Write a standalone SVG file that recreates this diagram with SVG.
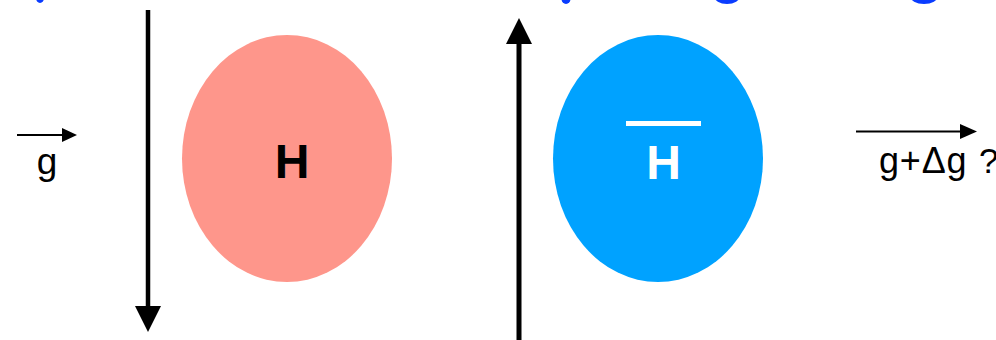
<svg xmlns="http://www.w3.org/2000/svg" width="996" height="340" viewBox="0 0 996 340">
<style>
.lbl{font-family:"Liberation Sans",Arial,sans-serif;font-size:36px;fill:#000}
.big{font-family:"Liberation Sans",Arial,sans-serif;font-size:48px;font-weight:bold;text-anchor:middle}
.frag{fill:#0a3cff}
</style>
<rect width="996" height="340" fill="#fff"/>
<g id="title-fragments">
<ellipse class="frag" cx="40" cy="-2" rx="4" ry="5"/>
<ellipse class="frag" cx="566" cy="-1" rx="4.5" ry="5"/>
<ellipse class="frag" cx="727" cy="-4" rx="13" ry="8"/>
<ellipse class="frag" cx="924" cy="-4" rx="14" ry="8"/>
</g>
<g id="node-H">
<ellipse cx="287" cy="158.5" rx="105" ry="123.5" fill="#fe968b"/>
<text class="big" x="292" y="178" fill="#000">H</text>
</g>
<g id="node-Hbar">
<ellipse cx="658" cy="158.5" rx="105" ry="123.5" fill="#00a2ff"/>
<rect x="626" y="121" width="75" height="5" fill="#fff"/>
<text class="big" x="663.5" y="179" fill="#fff">H</text>
</g>
<g id="label-g">
<text class="lbl" x="47" y="174" text-anchor="middle" style="font-size:37px">g</text>
</g>
<g id="label-gdg">
<text class="lbl" x="879" y="173" letter-spacing="0.8">g+Δg <tspan x="979" letter-spacing="0" style="font-size:35px">?</tspan></text>
</g>
<g id="connectors" fill="#000" stroke="#000">
<line x1="17" y1="135" x2="63" y2="135" stroke-width="2"/>
<polygon points="62,128 77,135 62,142" stroke="none"/>
<line x1="856" y1="131.5" x2="962" y2="131.5" stroke-width="2"/>
<polygon points="960,124 977,131.5 960,139" stroke="none"/>
<line x1="148" y1="10" x2="148" y2="308" stroke-width="4.5"/>
<polygon points="135,306 161,306 148,332" stroke="none"/>
<line x1="519" y1="42" x2="519" y2="340" stroke-width="5"/>
<polygon points="506,44 532,44 519,18" stroke="none"/>
</g>
</svg>
